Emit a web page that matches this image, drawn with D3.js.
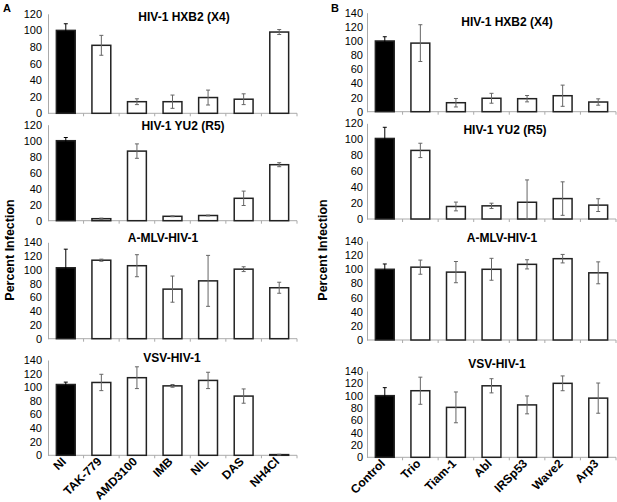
<!DOCTYPE html>
<html>
<head>
<meta charset="utf-8">
<script src="https://cdn.jsdelivr.net/npm/d3@7"></script>
<style>
  body { margin: 0; background: #fff; }
  svg text { font-family: Arial, "Liberation Sans", sans-serif; }
</style>
</head>
<body>
<div id="chart"></div>
<script>
// categories
const catsA = ["NI", "TAK-779", "AMD3100", "IMB", "NIL", "DAS", "NH4Cl"]
const catsB = ["Control", "Trio", "Tiam-1", "Abl", "IRSp53", "Wave2", "Arp3"]

// panel A values (percent infection) and error bars
const hxb2A = [100, 82, 14, 14, 19, 17, 98]
const hxb2AErr = [8, 12, 3.5, 8, 9, 6.5, 3]
const yu2A = [100, 2.5, 87, 5.5, 6.5, 28, 70]
const yu2AErr = [4, 0.7, 9, 0.5, 0.5, 9, 2.5]
const amlvA = [103, 114, 106, 72, 84, 101, 74]
const amlvAErr = [27, 1.5, 16, 19, 37, 3.5, 8]
const vsvA = [104, 107, 114, 102, 110, 87, 1]
const vsvAErr = [3.5, 12, 16, 2, 12, 10.5, 0.5]

// panel B values and error bars
const hxb2B = [100, 97, 12.7, 19, 18.4, 22.6, 13.7]
const hxb2BErr = [6, 26, 6, 7, 4.5, 15, 4.5]
const yu2B = [101, 86, 15.7, 16.5, 21, 25.6, 17.4]
const yu2BErr = [14, 9, 5.5, 3.3, 28, 21, 8]
const amlvB = [100, 103, 96, 100, 107, 115, 95]
const amlvBErr = [7.5, 10, 15, 15.5, 6.5, 6, 15.5]
const vsvB = [100, 108, 81, 116, 85, 120, 96]
const vsvBErr = [13, 22, 25, 11.5, 14.5, 12, 24.5]

const titles = ["HIV-1 HXB2 (X4)", "HIV-1 YU2 (R5)", "A-MLV-HIV-1", "VSV-HIV-1"]

const W = 617, H = 502
const svg = d3.select("#chart").append("svg")
    .attr("width", W)
    .attr("height", H)

// layout of each panel: x extent, then per plot y of zero, y of top, top value, title x/y
const panels = [
  { label: "A", lx: 3, ly: 12, cats: catsA, x0: 48, x1: 297, tickPad: 6, ytx: 10,
    plots: [
      { vals: hxb2A, errs: hxb2AErr, y0: 113.3, y1: 13.8, max: 120, tx: 184, ty: 21 },
      { vals: yu2A, errs: yu2AErr, y0: 220.7, y1: 124.7, max: 120, tx: 183, ty: 130 },
      { vals: amlvA, errs: amlvAErr, y0: 338.7, y1: 242.3, max: 140, tx: 163, ty: 242 },
      { vals: vsvA, errs: vsvAErr, y0: 455.3, y1: 360, max: 140, tx: 172, ty: 362 }
    ] },
  { label: "B", lx: 331, ly: 12, cats: catsB, x0: 367, x1: 616, tickPad: 4, ytx: 323,
    plots: [
      { vals: hxb2B, errs: hxb2BErr, y0: 111.7, y1: 12.7, max: 140, tx: 507, ty: 26 },
      { vals: yu2B, errs: yu2BErr, y0: 219, y1: 123.3, max: 120, tx: 505, ty: 134 },
      { vals: amlvB, errs: amlvBErr, y0: 340, y1: 241, max: 140, tx: 502, ty: 242 },
      { vals: vsvB, errs: vsvBErr, y0: 457.3, y1: 371, max: 140, tx: 497, ty: 368 }
    ] }
]

panels.forEach(p => {
  const x = d3.scaleBand()
      .domain(p.cats)
      .range([p.x0, p.x1])
      .paddingInner(0.47)
      .paddingOuter(0.235)

  p.plots.forEach((pl, i) => {
    const y = d3.scaleLinear()
        .domain([0, pl.max])
        .range([pl.y0, pl.y1])
    const g = svg.append("g")
    const data = p.cats.map((c, k) => ({ cat: c, v: pl.vals[k], e: pl.errs[k], k: k }))

    // y axis
    const yAxis = d3.axisLeft(y)
        .tickValues(d3.range(0, pl.max + 1, 20))
        .tickSize(0)
        .tickPadding(p.tickPad)
    g.append("g")
        .attr("transform", "translate(" + p.x0 + ",0)")
        .call(yAxis)
        .call(a => a.select(".domain").attr("stroke", "#aaa"))
        .call(a => a.selectAll("text").style("font-size", "11px").attr("fill", "#000"))

    // x axis line with ticks at band edges
    g.append("line")
        .attr("x1", p.x0).attr("x2", p.x1)
        .attr("y1", y(0)).attr("y2", y(0))
        .attr("stroke", "#aaa")
    const step = x.step()
    const edges = p.cats.map(c => x(c) + x.bandwidth() / 2 + step / 2)
    g.selectAll(".xt")
      .data(edges)
      .enter()
      .append("line")
      .attr("x1", d => d).attr("x2", d => d)
      .attr("y1", y(0)).attr("y2", y(0) + 3)
      .attr("stroke", "#aaa")

    // bars
    g.selectAll(".bar")
      .data(data)
      .enter()
      .append("rect")
      .attr("x", d => x(d.cat))
      .attr("y", d => y(d.v))
      .attr("width", x.bandwidth())
      .attr("height", d => y(0) - y(d.v))
      .attr("fill", d => d.k === 0 ? "#000" : "#fff")
      .attr("stroke", "#222")
      .attr("stroke-width", 1.5)

    // error bars (black on the black control bar so the inner half disappears)
    const cx = d => x(d.cat) + x.bandwidth() / 2
    const eb = g.selectAll(".err")
      .data(data)
      .enter()
      .append("g")
      .attr("stroke", d => d.k === 0 ? "#000" : "#666")
      .attr("stroke-width", 1)
    eb.append("line")
      .attr("x1", cx).attr("x2", cx)
      .attr("y1", d => y(d.v + d.e))
      .attr("y2", d => y(Math.max(0, d.v - d.e)))
    eb.append("line")
      .attr("x1", d => cx(d) - 2).attr("x2", d => cx(d) + 2)
      .attr("y1", d => y(d.v + d.e)).attr("y2", d => y(d.v + d.e))
    eb.append("line")
      .attr("x1", d => cx(d) - 2).attr("x2", d => cx(d) + 2)
      .attr("y1", d => y(Math.max(0, d.v - d.e))).attr("y2", d => y(Math.max(0, d.v - d.e)))

    // title
    g.append("text")
      .text(titles[i])
      .attr("x", pl.tx)
      .attr("y", pl.ty)
      .style("text-anchor", "middle")
      .style("font-size", "12px")
      .style("font-weight", "bold")

    // category labels under bottom plot
    if (i === p.plots.length - 1) {
      g.selectAll(".xl")
        .data(data)
        .enter()
        .append("text")
        .text(d => d.cat)
        .attr("transform", d => "translate(" + (cx(d) + 1) + "," + (y(0) + 7) + ") rotate(-45)")
        .style("text-anchor", "end")
        .style("font-size", "12px")
        .style("font-weight", "bold")
    }
  })

  // panel letter
  svg.append("text")
    .text(p.label)
    .attr("x", p.lx)
    .attr("y", p.ly)
    .style("font-size", "11px")
    .style("font-weight", "bold")

  // y axis title
  svg.append("text")
    .text("Percent Infection")
    .attr("transform", "translate(" + (p.ytx + 4) + ",250) rotate(-90)")
    .style("text-anchor", "middle")
    .style("font-size", "12.5px")
    .style("font-weight", "bold")
})
</script>
</body>
</html>
